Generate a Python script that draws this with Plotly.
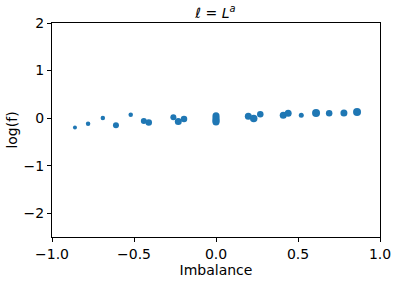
import plotly.graph_objects as go

imbalance = [-0.86, -0.78, -0.69, -0.61, -0.52, -0.44, -0.41, -0.26, -0.23, -0.195,
             0.0, 0.0, 0.0, 0.0, 0.0,
             0.197, 0.23, 0.27, 0.41, 0.44, 0.52, 0.61, 0.69, 0.78, 0.86]
log_f = [-0.20, -0.12, 0.00, -0.15, 0.07, -0.06, -0.09, 0.02, -0.07, -0.02,
         0.05, 0.01, -0.03, -0.06, -0.08,
         0.04, -0.01, 0.08, 0.06, 0.10, 0.06, 0.11, 0.10, 0.11, 0.13]
sizes = [4, 4.5, 4.5, 6, 4.5, 6, 6.5, 6, 7, 6.5,
         7, 7, 7, 7, 7,
         7, 7.5, 6.5, 7, 7, 5, 8, 6.5, 7, 8]

font = "DejaVu Sans, sans-serif"
fs = 14
fig = go.Figure(go.Scatter(
    x=imbalance, y=log_f, mode="markers",
    marker=dict(color="#1f77b4", size=sizes, opacity=1, line=dict(width=0)),
))
axis_common = dict(showgrid=False, zeroline=False, showline=True, linecolor="black",
                   linewidth=1, mirror=True, ticks="outside", ticklen=4, tickcolor="black",
                   automargin=False,
                   tickfont=dict(size=fs, color="black", family=font))
fig.update_xaxes(range=[-1, 1], tickvals=[-1, -0.5, 0, 0.5, 1],
                 ticktext=["\u22121.0", "\u22120.5", "0.0", "0.5", "1.0"],
                 title=dict(text="Imbalance", font=dict(size=fs, color="black", family=font), standoff=1),
                 **axis_common)
fig.update_yaxes(range=[-2.5, 2], tickvals=[-2, -1, 0, 1, 2],
                 ticktext=["\u22122", "\u22121", "0", "1", "2"],
                 title=dict(text="log(f)", font=dict(size=fs, color="black", family=font), standoff=2),
                 **axis_common)
fig.update_layout(
    width=399, height=282,
    margin=dict(l=52, r=19, t=23, b=45, autoexpand=False),
    plot_bgcolor="white", paper_bgcolor="white",
    showlegend=False,
    title=dict(text="<i>ℓ</i> = <i>L</i><sup><i>a</i></sup>", x=0.54, xanchor="center",
               y=0.955, yanchor="middle", font=dict(size=14, color="black", family=font)),
)
fig.write_html("out.html", config={"displayModeBar": False},
               post_script="document.body.style.margin='0';document.body.style.overflow='hidden';")
